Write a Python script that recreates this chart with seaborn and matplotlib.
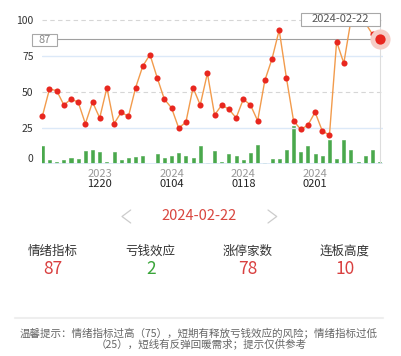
import numpy as np
import pandas as pd
import matplotlib
matplotlib.use("Agg")
import matplotlib.pyplot as plt
import matplotlib.transforms as mtrans
from matplotlib.patches import Rectangle
from matplotlib.lines import Line2D
import seaborn as sns

# ---------------- data ----------------
mood_index = [33, 52, 51, 41, 45, 43, 28, 43, 32, 53, 28, 36, 33, 53, 68, 76,
              60, 45, 39, 25, 29, 53, 41, 63, 34, 41, 38, 32, 45, 41, 30, 58,
              73, 93, 60, 30, 24, 27, 36, 23, 20, 85, 70, 100, 100, 98, 90, 87]
loss_effect = [15, 3, 2, 3, 5, 4, 11, 12, 10, 2, 10, 3, 5, 6, 7, 0,
               8, 5, 7, 9, 7, 5, 15, 1, 11, 2, 8, 7, 3, 9, 16, 1,
               4, 4, 12, 32, 10, 15, 8, 7, 20, 4, 20, 12, 2, 7, 12, 2]
tick_pos = [8, 18, 28, 38]
tick_years = ["2023", "2024", "2024", "2024"]
tick_dates = ["1220", "0104", "0118", "0201"]
y_ticks = [0, 25, 50, 75, 100]
current_date = "2024-02-22"
stat_labels = ["情绪指标", "亏钱效应", "涨停家数", "连板高度"]
stat_values = ["87", "2", "78", "10"]
note_lines = ["温馨提示：情绪指标过高（75），短期有释放亏钱效应的风险；情绪指标过低",
              "（25），短线有反弹回暖需求；提示仅供参考"]

df = pd.DataFrame({"i": np.arange(len(mood_index)), "mood": mood_index,
                   "loss": loss_effect})

# ---------------- style ----------------
sns.set_style("white")
plt.rcParams["font.family"] = ["Noto Sans CJK SC", "DejaVu Sans"]

RED = "#e8271f"
ORANGE = "#f29b4c"
GREEN = "#4aa84c"
W, H = 402, 356


def fx(x):
    return x / W


def fy(y):
    return 1 - y / H


fig = plt.figure(figsize=(W / 100, H / 100), dpi=100)
fig.patch.set_facecolor("white")

ax = fig.add_axes([fx(42), fy(164), 341 / W, 158 / H])
ax2 = ax.twinx()

# bars (loss effect) on twin axis, categorical positions 0..n-1
sns.barplot(data=df, x="i", y="loss", width=0.42, color=GREEN,
            saturation=1, errorbar=None, ax=ax2, linewidth=0.4,
            edgecolor=GREEN)
ax2.set_ylim(0, 158 / 1.2)
ax2.set_axis_off()

ax.set_zorder(ax2.get_zorder() + 1)
ax.patch.set_visible(False)

# grid lines
for v in (100, 50):
    ax.axhline(v, color="#d6d6d6", lw=0.8, ls=(0, (4, 3)), zorder=0.5)
for v in (75, 25):
    ax.axhline(v, color="#dce9f8", lw=1.0, zorder=0.5)
ax.axhline(0, color="#dce9f8", lw=1.3, zorder=0.5)

# crosshair
last = len(mood_index) - 1
ax.plot([-0.1, last], [mood_index[last]] * 2, color="#a0a0a0", lw=0.8, zorder=1)
ax.plot([last, last], [0, 100], color="#dddddd", lw=0.8, zorder=1)

# line
sns.lineplot(data=df, x="i", y="mood", ax=ax, color=ORANGE, lw=1.0,
             marker="o", markersize=4.4, markerfacecolor=RED,
             markeredgecolor=RED, markeredgewidth=0, clip_on=False, zorder=3)

# highlighted last point
ax.plot([last], [mood_index[last]], "o", ms=14.5, color="#f6cdc6",
        mew=0, clip_on=False, zorder=4)
ax.plot([last], [mood_index[last]], "o", ms=7.4, color=RED, mew=0,
        clip_on=False, zorder=5)

ax.set_xlim(-0.04, 47.46)
ax2.set_xlim(-0.04, 47.46)
ax.set_ylim(0, 158 / 1.44)
ax.set_xlabel("")
ax.set_ylabel("")
ax.set_xticks([])
ax.set_yticks(y_ticks)
ax.set_yticklabels([str(v) for v in y_ticks])
ax.tick_params(axis="y", length=0, pad=6, labelsize=7.5, labelcolor="#333333")
for lab in ax.get_yticklabels():
    if lab.get_text() == "0":
        lab.set_va("bottom")
for s in ax.spines.values():
    s.set_visible(False)

# x labels
tr = mtrans.blended_transform_factory(ax.transData, fig.transFigure)
for p, yr, md in zip(tick_pos, tick_years, tick_dates):
    ax.text(p, fy(173.5), yr, transform=tr, ha="center", va="center",
            fontsize=8, color="#999999")
    ax.text(p, fy(184), md, transform=tr, ha="center", va="center",
            fontsize=8, color="#222222")


def box(x0, y0, x1, y1, text, fs, color):
    fig.add_artist(Rectangle((fx(x0), fy(y1)), (x1 - x0) / W, (y1 - y0) / H,
                             transform=fig.transFigure, facecolor="white",
                             edgecolor="#a8a8a8", lw=0.8, zorder=10))
    fig.text(fx((x0 + x1) / 2), fy((y0 + y1) / 2), text, ha="center",
             va="center", fontsize=fs, color=color, zorder=11)


box(32, 34, 57, 46, str(mood_index[last]), 8, "#888888")
box(301, 13, 380, 26, current_date, 8, "#555555")

# date selector
fig.text(fx(199), fy(216), current_date, ha="center", va="center",
         fontsize=10.5, color="#d9463f")
fig.add_artist(Line2D([fx(130.7), fx(122), fx(130.7)],
                      [fy(210), fy(216.5), fy(223)], color="#cccccc", lw=0.9))
fig.add_artist(Line2D([fx(268), fx(276.7), fx(268)],
                      [fy(210), fy(216.5), fy(223)], color="#cccccc", lw=0.9))

# stats
stat_x = [53, 150.7, 247.7, 345]
stat_colors = ["#d94040", "#3aa53a", "#d94040", "#d94040"]
for x, lab, val, c in zip(stat_x, stat_labels, stat_values, stat_colors):
    fig.text(fx(x), fy(251.5), lab, ha="center", va="center", fontsize=9,
             color="#333333")
    fig.text(fx(x), fy(269), val, ha="center", va="center", fontsize=12.5,
             color=c)

fig.add_artist(Line2D([fx(15), fx(383)], [fy(317.7), fy(317.7)],
                      color="#eeeeee", lw=1.5))

fig.text(fx(199), fy(334), note_lines[0], ha="center", va="center",
         fontsize=7.6, color="#666666")
fig.text(fx(201), fy(344), note_lines[1], ha="center", va="center",
         fontsize=7.6, color="#666666")

fig.savefig("out.png", dpi=100)
